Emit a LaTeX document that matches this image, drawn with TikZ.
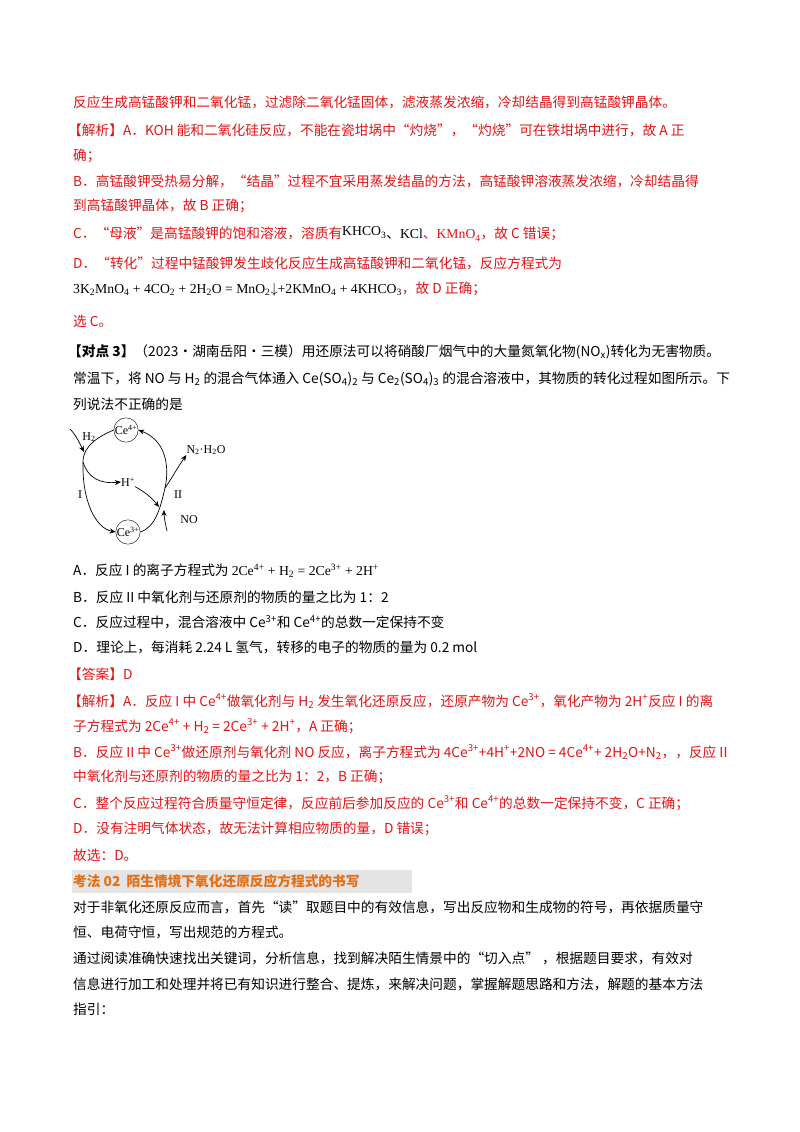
\documentclass[tikz,border=0pt]{standalone}
\usepackage{fontspec}
\setmainfont{Noto Sans CJK SC}
\newfontfamily\tms{Liberation Serif}
\usetikzlibrary{arrows.meta}
\definecolor{rd}{RGB}{225,20,20}
\definecolor{org}{RGB}{230,110,20}
\definecolor{hbg}{RGB}{228,228,228}
\newcommand{\sps}[1]{\textsuperscript{#1}}
\newcommand{\sbs}[1]{\textsubscript{#1}}
\begin{document}
\begin{tikzpicture}[x=1pt,y=-1pt,
  ln/.style={anchor=west,inner sep=0pt,font=\fontsize{13.7}{15}\selectfont},
  rl/.style={ln,text=rd},
  bl/.style={ln,text=black},
  ci/.style={draw,circle,minimum size=24pt,inner sep=0pt,font=\tms\fontsize{12}{14}\selectfont},
  lb/.style={inner sep=0pt,font=\tms\fontsize{12}{14}\selectfont},
  ar/.style={-{Stealth[length=6pt,width=5pt]},line width=0.7pt}]
\useasboundingbox[fill=white] (0,0) rectangle (800,1132);
\node[rl] (l1) at (73,102) {反应生成高锰酸钾和二氧化锰，过滤除二氧化锰固体，滤液蒸发浓缩，冷却结晶得到高锰酸钾晶体。};
\node[rl] (l2) at (68,130) {【解析】A．KOH 能和二氧化硅反应，不能在瓷坩埚中“灼烧”，“灼烧”可在铁坩埚中进行，故 A 正};
\node[rl] (l3) at (73,156) {确；};
\node[rl] (l4) at (73,181) {B．高锰酸钾受热易分解，“结晶”过程不宜采用蒸发结晶的方法，高锰酸钾溶液蒸发浓缩，冷却结晶得};
\node[rl] (l5) at (73,206) {到高锰酸钾晶体，故 B 正确；};
\node[rl] (l6) at (73,234) {C．“母液”是高锰酸钾的饱和溶液，溶质有{\color{black}{\tms\raisebox{3pt}{KHCO\sbs{3}}}、{\tms KCl}}、{\tms KMnO\sbs{4}}，故 C 错误；};
\node[rl] (l7) at (73,263) {D．“转化”过程中锰酸钾发生歧化反应生成高锰酸钾和二氧化锰，反应方程式为};
\node[rl] (l8) at (73,289) {{\color{black}\tms 3K\sbs{2}MnO\sbs{4} + 4CO\sbs{2} + 2H\sbs{2}O = MnO\sbs{2}$\downarrow$+2KMnO\sbs{4} + 4KHCO\sbs{3}}，故 D 正确；};
\node[rl] (l9) at (73,321) {选 C。};
\node[bl] (l10) at (68,352) {\textbf{【对点 3】}（2023·湖南岳阳·三模）用还原法可以将硝酸厂烟气中的大量氮氧化物(NO\sbs{x})转化为无害物质。};
\node[bl] (l11) at (73,379) {常温下，将 NO 与 H\sbs{2} 的混合气体通入 Ce(SO\sbs{4})\sbs{2} 与 Ce\sbs{2}(SO\sbs{4})\sbs{3} 的混合溶液中，其物质的转化过程如图所示。下};
\node[bl] (l12) at (73,404) {列说法不正确的是};
% diagram
\node[ci] (c4) at (126,430) {Ce\sps{4+}};
\node[ci] (c3) at (128,532) {Ce\sps{3+}};
\node[lb] (h2) at (89,437) {H\sbs{2}};
\node[lb] (hp) at (128,482) {H\sps{+}};
\node[lb] (n2) at (206,450) {N\sbs{2}·H\sbs{2}O};
\node[lb] (r1) at (80,495) {I};
\node[lb] (r2) at (178,495) {II};
\node[lb] (no) at (189,520) {NO};
\coordinate (lt) at (83,462);
\coordinate (rt) at (165,488);
\draw[ar] (c4.west) .. controls (100,436) and (83,445) .. (lt) .. controls (82,500) and (95,528) .. (c3.west);
\draw[line width=0.7pt] (c3.east) .. controls (155,527) and (160,510) .. (rt);
\draw[ar] (rt) .. controls (170,465) and (165,440) .. (c4.east);
\draw[ar] (70,429) .. controls (76,435) and (80,444) .. (84,452);
\draw[ar] (lt) .. controls (88,478) and (100,484) .. (hp.west);
\draw[ar] (hp.south east) .. controls (145,492) and (152,498) .. (159,507);
\draw[ar] (rt) .. controls (172,478) and (176,470) .. (n2.south west);
\draw[ar] (167,531) .. controls (165,522) and (164,516) .. (164,510);
% options
\node[bl] (a) at (73,571) {A．反应 I 的离子方程式为 {\tms 2Ce\sps{4+} + H\sbs{2} = 2Ce\sps{3+} + 2H\sps{+}}};
\node[bl] (b) at (73,597) {B．反应 II 中氧化剂与还原剂的物质的量之比为 1：2};
\node[bl] (c) at (73,622) {C．反应过程中，混合溶液中 Ce\sps{3+}和 Ce\sps{4+}的总数一定保持不变};
\node[bl] (d) at (73,647) {D．理论上，每消耗 2.24 L 氢气，转移的电子的物质的量为 0.2 mol};
\node[rl] (ans) at (68,674) {【答案】D};
\node[rl] (j1) at (68,701) {【解析】A．反应 I 中 Ce\sps{4+}做氧化剂与 H\sbs{2} 发生氧化还原反应，还原产物为 Ce\sps{3+}，氧化产物为 2H\sps{+}反应 I 的离};
\node[rl] (j2) at (73,726) {子方程式为 2Ce\sps{4+} + H\sbs{2} = 2Ce\sps{3+} + 2H\sps{+}，A 正确；};
\node[rl] (j3) at (73,752) {B．反应 II 中 Ce\sps{3+}做还原剂与氧化剂 NO 反应，离子方程式为 4Ce\sps{3+}+4H\sps{+}+2NO = 4Ce\sps{4+}+ 2H\sbs{2}O+N\sbs{2}，，反应 II};
\node[rl] (j4) at (73,777) {中氧化剂与还原剂的物质的量之比为 1：2，B 正确；};
\node[rl] (j5) at (73,803) {C．整个反应过程符合质量守恒定律，反应前后参加反应的 Ce\sps{3+}和 Ce\sps{4+}的总数一定保持不变，C 正确；};
\node[rl] (j6) at (73,829) {D．没有注明气体状态，故无法计算相应物质的量，D 错误；};
\node[rl] (j7) at (73,855) {故选：D。};
\fill[hbg] (72,870) rectangle (412,893);
\node[ln,text=org,font=\bfseries\fontsize{13.7}{15}\selectfont] (hd) at (73,881) {考法 02\ \ 陌生情境下氧化还原反应方程式的书写};
\node[bl] (p1) at (73,907) {对于非氧化还原反应而言，首先“读”取题目中的有效信息，写出反应物和生成物的符号，再依据质量守};
\node[bl] (p2) at (73,932) {恒、电荷守恒，写出规范的方程式。};
\node[bl] (p3) at (73,958) {通过阅读准确快速找出关键词，分析信息，找到解决陌生情景中的“切入点”\ ，根据题目要求，有效对};
\node[bl] (p4) at (73,984) {信息进行加工和处理并将已有知识进行整合、提炼，来解决问题，掌握解题思路和方法，解题的基本方法};
\node[bl] (p5) at (73,1009) {指引：};
\end{tikzpicture}
\end{document}
